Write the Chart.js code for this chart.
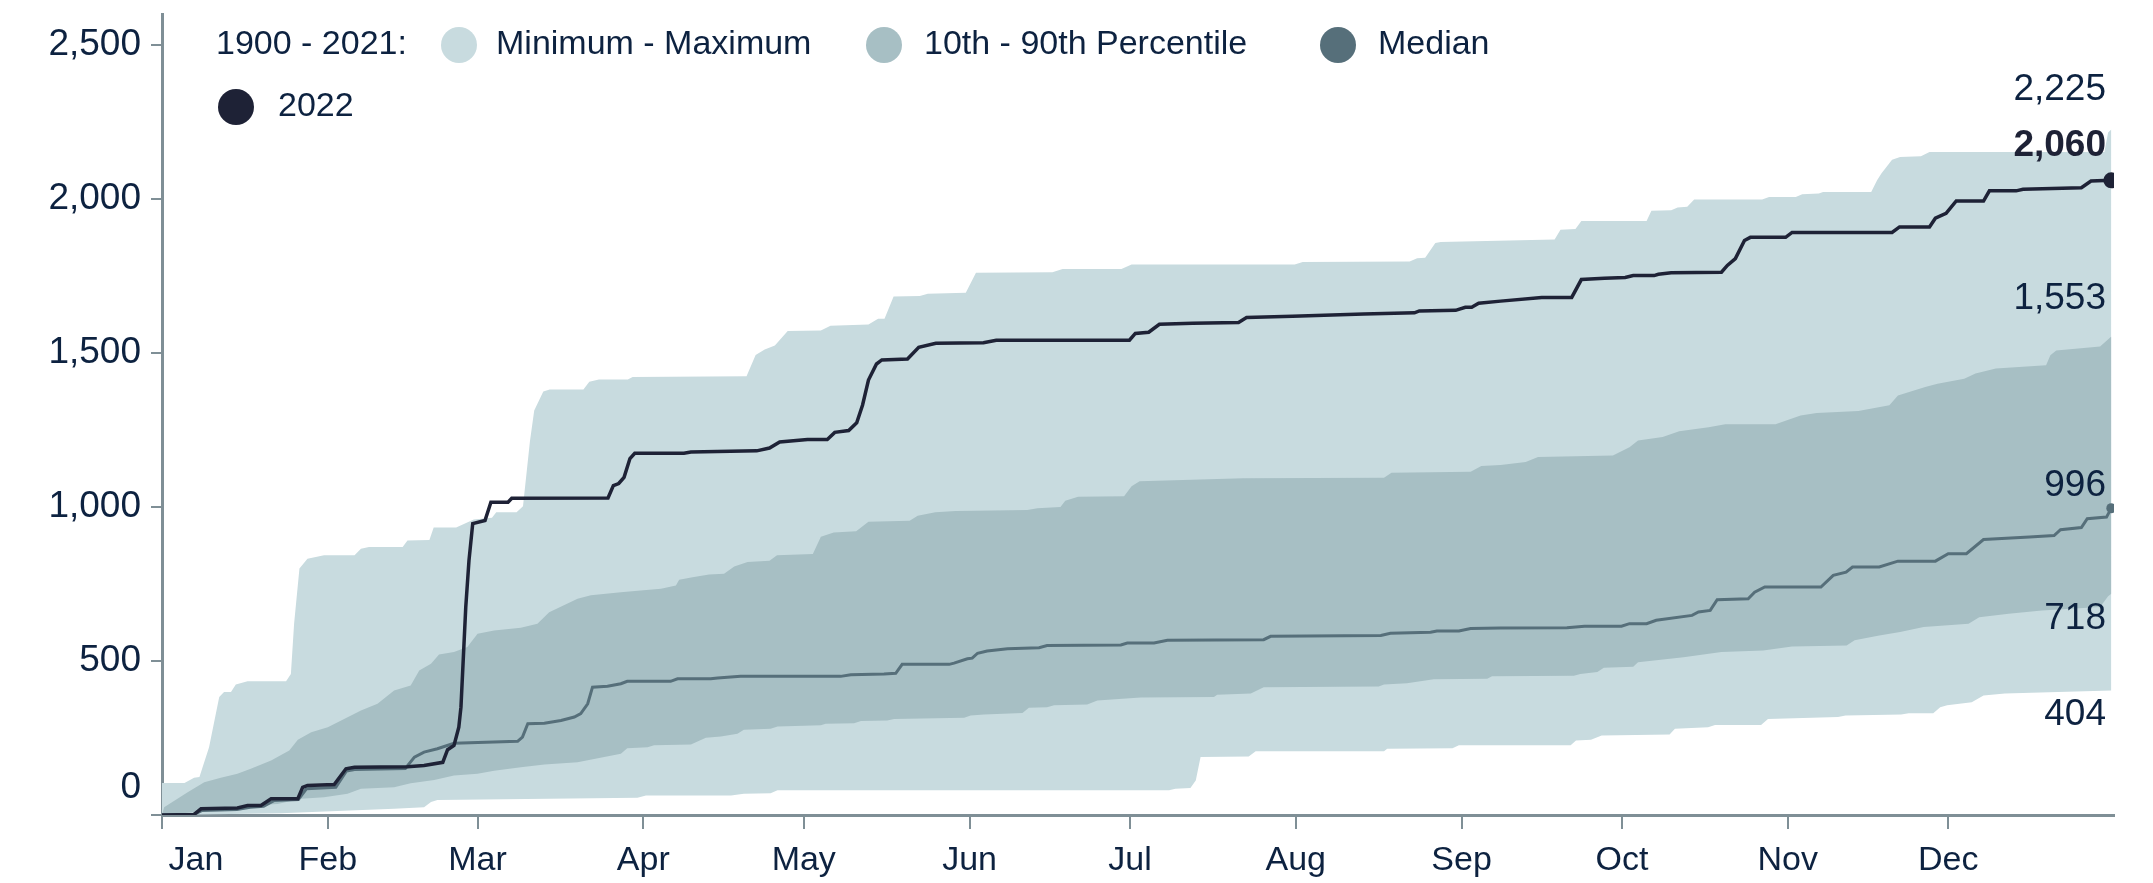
<!DOCTYPE html>
<html>
<head>
<meta charset="utf-8">
<script src="https://cdn.jsdelivr.net/npm/chart.js@4.4.1/dist/chart.umd.min.js"></script>
<style>
  html, body { margin: 0; padding: 0; background: #fff; }
  #wrap { width: 2153px; height: 883px; }
</style>
</head>
<body>
<div id="wrap"><canvas id="chart" width="2153" height="883"></canvas></div>
<script>
// cumulative totals, x = day of year (0 = Jan 1), y = running total

const LIGHT = '#c8dbdf';
const MID = '#a7bfc4';
const MEDIAN_C = '#566f7a';
const DARK = '#1e2236';
const AXIS = '#7f8f96';
const TEXT = '#0d2240';
const FONT = '"Liberation Sans", Arial, sans-serif';

const monthStarts = [0, 31, 59, 90, 120, 151, 181, 212, 243, 273, 304, 334];
const monthLabels = ['Jan', 'Feb', 'Mar', 'Apr', 'May', 'Jun', 'Jul', 'Aug', 'Sep', 'Oct', 'Nov', 'Dec'];
const yTicks = [0, 500, 1000, 1500, 2000, 2500];

const maxPts = [[0,104],[4.2,104],[6,121],[7,123],[8.8,220],[10.7,383],[11.6,399],[12.9,399],[13.8,424],[16,434],[23.2,434],[24.1,458],[24.7,621],[25.7,800],[27.2,832],[30.3,843],[36,843],[37.2,864],[38.7,870],[45,870],[45.9,891],[50,893],[50.8,933],[55,933],[58.3,959],[61.7,965],[62.5,983],[66.3,983],[67.5,1002],[68.8,1213],[69.6,1313],[71.3,1375],[72.5,1381],[78.8,1381],[79.9,1406],[81.7,1414],[87.1,1414],[88,1422],[109.3,1424],[111,1493],[112.7,1511],[114.6,1524],[117,1571],[123.2,1573],[125,1588],[132.1,1592],[133.9,1611],[135.1,1611],[136.8,1683],[141.7,1685],[143.2,1692],[150.3,1695],[152.2,1760],[166.5,1762],[168.4,1772],[179.4,1772],[181.3,1787],[211.8,1787],[213.3,1795],[233.3,1797],[234.7,1807],[236.2,1809],[238.1,1857],[239.1,1860],[260.4,1868],[261.5,1900],[264.3,1902],[265.4,1928],[277.6,1928],[278.5,1961],[282.2,1963],[283.4,1972],[285.2,1974],[286.5,1998],[299.2,1998],[300.5,2006],[305.5,2006],[306.7,2015],[309.8,2017],[310.6,2022],[319.6,2022],[320.7,2060],[321.5,2082],[323.5,2127],[325,2136],[328.9,2138],[330.5,2152],[363.2,2152],[363.9,2215],[364.5,2225]];

const minPts = [[0,0],[22.2,6],[43.4,20],[49,25],[50.3,42],[51.5,49],[88.9,56],[90.5,63],[106.4,63],[108.8,69],[113.8,71],[115.1,80],[188.3,80],[189.5,85],[192.3,88],[193.3,112],[194.2,188],[203.2,190],[204.5,207],[228.5,207],[229.1,215],[241.3,217],[242.5,226],[263.4,226],[264.4,242],[267.2,244],[269.2,258],[281.9,261],[282.9,280],[289.1,285],[290.4,292],[299,292],[300.3,312],[313.4,318],[314.8,323],[325.2,326],[326.6,330],[331.2,330],[332.5,350],[333.8,356],[338.4,366],[340.6,388],[344.6,394],[364.5,404]];

const p90Pts = [[0,0],[0.4,25],[4.8,74],[7.9,106],[11,121],[14.1,134],[16.6,150],[20.4,177],[23.8,209],[25.4,244],[27.9,269],[31,285],[33.5,307],[37.2,339],[40.3,361],[43.4,404],[46.5,420],[48.1,469],[50.3,491],[51.8,521],[54.6,529],[57.1,545],[59,588],[62.1,599],[67.1,608],[70.2,621],[72.4,658],[77.7,702],[80.2,713],[85.8,723],[89.5,729],[93.3,734],[96.1,745],[96.7,764],[99.2,772],[102.3,781],[105.1,783],[107,807],[109.5,821],[113.6,825],[115,843],[121.7,847],[123.2,903],[125.6,917],[129.8,921],[132.1,952],[139.8,955],[141.3,971],[144.6,983],[148.4,987],[161.8,990],[163.7,996],[168,1000],[168.9,1020],[171.3,1033],[179.9,1035],[181.3,1067],[182.8,1083],[202.2,1093],[228.5,1095],[229.9,1111],[244.7,1114],[246.7,1133],[250.3,1136],[255,1146],[257.3,1162],[271.3,1167],[274.4,1194],[276,1216],[280.6,1227],[283.7,1246],[289.2,1259],[292.3,1268],[301.7,1268],[306.4,1297],[309.4,1305],[317.2,1311],[323,1330],[324.6,1362],[329.7,1389],[332,1400],[337,1416],[339.1,1433],[342.9,1449],[352.3,1460],[353.1,1492],[354.2,1508],[362.4,1521],[364.5,1553]];

const p10Pts = [[0,0],[6,9],[11,20],[16.6,31],[21.6,36],[26,53],[30.3,58],[34.7,69],[37.2,85],[43.4,90],[46.5,103],[50.9,114],[54.6,128],[59,134],[62.1,144],[67.1,155],[71.5,164],[77.7,171],[85.8,199],[87,217],[90.8,220],[92,226],[98.9,229],[101.7,251],[104.5,255],[107.6,264],[108.8,277],[113.8,280],[115.1,287],[123.2,291],[124.1,296],[129.4,298],[130.7,305],[135.6,307],[136.9,312],[150,316],[151.2,323],[153.7,326],[160.9,331],[162.1,348],[165.5,350],[166.8,356],[173,359],[174.9,372],[183,381],[196.7,383],[197.3,390],[203.6,394],[206,415],[227.5,417],[228.5,424],[232.8,428],[237.8,441],[247.8,442],[248.7,450],[264,452],[265.2,458],[268.4,464],[269.6,478],[275.1,481],[276,496],[284.5,512],[291.6,529],[299.4,534],[304.8,547],[315,550],[316.5,567],[321.1,583],[325,594],[329.4,610],[337.8,621],[339.8,642],[345.3,653],[351.5,664],[362.4,675],[363.9,710],[364.5,718]];

const medianPts = [[0,0],[6,2],[7.5,15],[14,18],[16.5,25],[19,28],[21,47],[25.5,50],[27,85],[32.5,90],[34.5,143],[36,148],[45.5,151],[47.2,188],[49,204],[51.5,215],[54.6,233],[66.5,239],[67.4,253],[68.4,296],[71.5,298],[74.6,307],[77.1,318],[78.3,329],[79.6,361],[80.5,415],[83.3,418],[85.8,426],[87,434],[95.1,434],[96.4,442],[102.6,442],[103.9,445],[108.2,450],[126.9,450],[128.8,455],[135,458],[137.2,460],[138.4,489],[147.2,489],[148.1,493],[150.6,507],[151.5,509],[152.5,525],[154.3,532],[158.1,540],[164,543],[165.5,550],[179.3,552],[180.5,558],[185.5,558],[188,567],[206,569],[207.3,580],[227.9,583],[229.7,590],[237.2,593],[238.4,597],[242.5,597],[244.7,605],[250.3,607],[262.7,608],[266,613],[272.9,613],[274.4,621],[277.6,621],[279.4,632],[286.1,648],[287.3,659],[289.5,664],[290.8,699],[296.6,702],[297.8,723],[299.7,740],[310.2,740],[312.5,778],[314.9,788],[316.1,805],[321.1,805],[324.6,824],[331.6,824],[334,848],[337.4,848],[340.6,894],[349.2,902],[353.8,907],[355,926],[358.9,933],[360,962],[363.6,967],[364.5,996]];

const y2022Pts = [[0,0],[6,2],[7.3,20],[14.1,23],[16,31],[18.5,31],[20.4,53],[25.4,53],[26.3,90],[27.2,96],[32.2,99],[34.4,150],[36,155],[45.9,157],[49,161],[52.5,171],[53.4,212],[54.6,226],[55.5,285],[55.9,350],[56.8,675],[57.4,826],[58.1,946],[60.4,956],[61.5,1015],[64.7,1015],[65.4,1028],[83.4,1029],[84.4,1069],[85.4,1076],[86.4,1096],[87.5,1157],[88.4,1174],[97.6,1174],[98.9,1178],[111.2,1182],[113.6,1191],[115.5,1211],[120.7,1219],[124.4,1219],[125.8,1242],[128.4,1248],[129.9,1273],[131,1331],[132.1,1412],[133.6,1464],[134.6,1477],[139.4,1480],[141.5,1518],[144.7,1531],[153.6,1533],[156,1541],[180.9,1541],[182,1563],[184.5,1567],[186.5,1593],[192.7,1596],[201.3,1599],[202.8,1615],[211.4,1619],[224.7,1626],[234.2,1630],[235.1,1636],[241.9,1638],[243.7,1648],[244.9,1648],[246.2,1661],[250.3,1668],[258,1680],[263.6,1680],[265.4,1738],[269.7,1742],[273.6,1745],[275.1,1751],[279,1751],[279.8,1755],[282.2,1760],[291.6,1762],[292.7,1784],[294.2,1806],[295.9,1865],[297,1875],[303.6,1875],[304.8,1891],[323.5,1891],[324.9,1909],[330.5,1909],[331.6,1937],[333.6,1953],[335.5,1993],[340.6,1993],[341.7,2026],[346.7,2026],[348,2031],[358.9,2036],[360.7,2058],[364.5,2060]];

const legendItems = [
  { label: 'Minimum - Maximum', color: LIGHT },
  { label: '10th - 90th Percentile', color: MID },
  { label: 'Median', color: MEDIAN_C },
  { label: '2022', color: DARK }
];

const toXY = pts => pts.map(([x, y]) => ({ x, y }));
const fmt = v => Math.round(v).toLocaleString('en-US');
const last = pts => pts[pts.length - 1][1];

function band(label, pts, color, fill) {
  return {
    label, data: toXY(pts), borderWidth: 0, borderColor: color,
    backgroundColor: color, pointRadius: 0, fill: fill ? '+1' : false, tension: 0
  };
}

// legend, month labels, shifted "0" label and end-of-year values
const overlayPlugin = {
  id: 'overlay',
  afterDraw(chart) {
    const { ctx, scales: { x, y } } = chart;
    ctx.save();
    ctx.font = `34px ${FONT}`;
    ctx.fillStyle = TEXT;
    ctx.textBaseline = 'middle';

    // legend
    ctx.textAlign = 'left';
    ctx.fillText('1900 - 2021:', 216, 45);
    const pos = [[459, 45, 496], [884, 45, 924], [1338, 45, 1378], [236, 107, 278]];
    legendItems.forEach((it, i) => {
      const [cx, cy, tx] = pos[i];
      ctx.beginPath();
      ctx.arc(cx, cy, 18, 0, Math.PI * 2);
      ctx.fillStyle = it.color;
      ctx.fill();
      ctx.fillStyle = TEXT;
      ctx.fillText(it.label, tx, cy);
    });

    // month labels (Jan is nudged right, clear of the y axis)
    ctx.textAlign = 'center';
    monthStarts.forEach((d, i) => {
      const px = x.getPixelForValue(d) + (i === 0 ? 34 : 0);
      ctx.fillText(monthLabels[i], px, 861);
    });

    // zero label sits above the x axis line
    ctx.font = `37px ${FONT}`;
    ctx.textAlign = 'right';
    ctx.fillText('0', 141, y.getPixelForValue(0) - 27);

    // end values
    const ex = 2106;
    const ends = [
      [last(maxPts), -40, false],
      [last(y2022Pts), -35, true],
      [last(p90Pts), -38, false],
      [last(medianPts), -22, false],
      [last(p10Pts), 25, false],
      [last(minPts), 24, false]
    ];
    ends.forEach(([v, off, bold]) => {
      ctx.font = `${bold ? 'bold ' : ''}37px ${FONT}`;
      ctx.fillStyle = bold ? DARK : TEXT;
      ctx.fillText(fmt(v), ex, y.getPixelForValue(v) + off);
    });
    ctx.restore();
  }
};

new Chart(document.getElementById('chart'), {
  type: 'line',
  data: {
    datasets: [
      {
        label: '2022', data: toXY(y2022Pts), borderColor: DARK, borderWidth: 3.5,
        backgroundColor: DARK, fill: false, tension: 0,
        pointRadius: c => c.dataIndex === y2022Pts.length - 1 ? 8 : 0,
        pointBorderWidth: 0
      },
      {
        label: 'Median', data: toXY(medianPts), borderColor: MEDIAN_C, borderWidth: 3,
        backgroundColor: MEDIAN_C, fill: false, tension: 0,
        pointRadius: c => c.dataIndex === medianPts.length - 1 ? 5 : 0,
        pointBorderWidth: 0
      },
      band('90th', p90Pts, MID, true),
      band('10th', p10Pts, MID, false),
      band('Maximum', maxPts, LIGHT, true),
      band('Minimum', minPts, LIGHT, false)
    ]
  },
  options: {
    responsive: false,
    animation: false,
    layout: { padding: { left: 0, right: 39, top: 14, bottom: 0 } },
    plugins: {
      legend: { display: false },
      tooltip: { enabled: false }
    },
    scales: {
      x: {
        type: 'linear', min: 0, max: 365,
        afterBuildTicks: s => { s.ticks = monthStarts.map(v => ({ value: v })); },
        afterFit: s => { s.height = 68; s.paddingLeft = 0; s.paddingRight = 0; },
        border: { color: AXIS, width: 3 },
        grid: { drawOnChartArea: false, tickLength: 14, color: AXIS, lineWidth: 2 },
        ticks: { display: false }
      },
      y: {
        type: 'linear', min: 0, max: 2600,
        afterBuildTicks: s => { s.ticks = yTicks.map(v => ({ value: v })); },
        afterFit: s => { s.width = 162; s.paddingTop = 0; s.paddingBottom = 0; },
        border: { color: AXIS, width: 3 },
        grid: { drawOnChartArea: false, tickLength: 11, color: AXIS, lineWidth: 2 },
        ticks: {
          padding: 10, color: TEXT, font: { family: FONT, size: 37 },
          callback: v => v === 0 ? '' : fmt(v)
        }
      }
    }
  },
  plugins: [overlayPlugin]
});
</script>
</body>
</html>
